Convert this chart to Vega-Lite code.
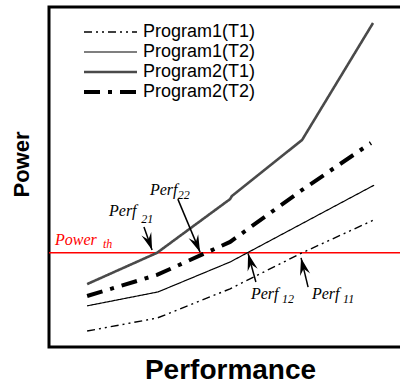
{
  "$schema": "https://vega.github.io/schema/vega-lite/v6.json",
  "width": 353,
  "height": 340,
  "autosize": {"type": "none"},
  "padding": {"left": 49, "top": 7, "right": 0, "bottom": 37},
  "background": "white",
  "config": {
    "view": {"stroke": "black", "strokeWidth": 3},
    "font": "Liberation Sans",
    "axis": {"domain": false, "ticks": false, "labels": false, "grid": false}
  },
  "datasets": {
    "curves": [
      {"program": "Program1(T1)", "perf": 10.8, "power": 4.7},
      {"program": "Program1(T1)", "perf": 30.6, "power": 8.5},
      {"program": "Program1(T1)", "perf": 51.3, "power": 17.1},
      {"program": "Program1(T1)", "perf": 71.7, "power": 27.7},
      {"program": "Program1(T1)", "perf": 92.1, "power": 37.4},
      {"program": "Program1(T2)", "perf": 10.8, "power": 12.1},
      {"program": "Program1(T2)", "perf": 30.9, "power": 16.2},
      {"program": "Program1(T2)", "perf": 51.3, "power": 25.0},
      {"program": "Program1(T2)", "perf": 92.1, "power": 47.6},
      {"program": "Program2(T1)", "perf": 10.8, "power": 18.5},
      {"program": "Program2(T1)", "perf": 30.6, "power": 27.7},
      {"program": "Program2(T1)", "perf": 51.3, "power": 43.5},
      {"program": "Program2(T1)", "perf": 51.8, "power": 44.4},
      {"program": "Program2(T1)", "perf": 71.7, "power": 60.9},
      {"program": "Program2(T1)", "perf": 91.8, "power": 95.3},
      {"program": "Program2(T2)", "perf": 10.8, "power": 15.0},
      {"program": "Program2(T2)", "perf": 30.6, "power": 21.2},
      {"program": "Program2(T2)", "perf": 51.3, "power": 30.9},
      {"program": "Program2(T2)", "perf": 71.7, "power": 46.2},
      {"program": "Program2(T2)", "perf": 91.2, "power": 60.0}
    ],
    "threshold": [{"power": 27.7}],
    "arrows": [
      {"name": "Perf21", "perf": 26.9, "power": 35.3, "perf2": 29.2, "power2": 28.5},
      {"name": "Perf22", "perf": 36.5, "power": 43.5, "perf2": 42.8, "power2": 27.9},
      {"name": "Perf12", "perf": 58.6, "power": 19.1, "perf2": 56.4, "power2": 27.5},
      {"name": "Perf11", "perf": 73.4, "power": 17.6, "perf2": 71.4, "power2": 26.2}
    ],
    "labels": [
      {"kind": "threshold", "part": "main", "text": "Power", "perf": 1.7, "power": 30.0},
      {"kind": "threshold", "part": "sub", "text": "th", "perf": 15.3, "power": 29.0},
      {"kind": "crossing", "part": "main", "text": "Perf", "perf": 17.0, "power": 38.4},
      {"kind": "crossing", "part": "sub", "text": "21", "perf": 26.1, "power": 36.6},
      {"kind": "crossing", "part": "main", "text": "Perf", "perf": 28.6, "power": 44.7},
      {"kind": "crossing", "part": "sub", "text": "22", "perf": 36.5, "power": 43.4},
      {"kind": "crossing", "part": "main", "text": "Perf", "perf": 57.2, "power": 14.1},
      {"kind": "crossing", "part": "sub", "text": "12", "perf": 66.0, "power": 12.9},
      {"kind": "crossing", "part": "main", "text": "Perf", "perf": 74.5, "power": 14.1},
      {"kind": "crossing", "part": "sub", "text": "11", "perf": 83.3, "power": 12.9}
    ]
  },
  "layer": [
    {
      "data": {"name": "threshold"},
      "mark": {"type": "rule", "color": "#ff0000", "strokeWidth": 1.5},
      "encoding": {
        "y": {"field": "power", "type": "quantitative", "scale": {"domain": [0, 100], "nice": false},
              "axis": {"title": "Power", "titleFontSize": 22, "titleFontWeight": "bold", "titleColor": "black",
                       "titleX": -21, "titleY": 157, "titleAngle": -90, "titleAlign": "center", "titleBaseline": "alphabetic"}}
      }
    },
    {
      "data": {"name": "curves"},
      "mark": {"type": "line", "strokeCap": "butt"},
      "encoding": {
        "x": {"field": "perf", "type": "quantitative", "scale": {"domain": [0, 100], "nice": false},
              "axis": {"title": "Performance", "titleFontSize": 28, "titleFontWeight": "bold", "titleColor": "black",
                       "titleX": 181, "titleY": 31, "titleAlign": "center", "titleBaseline": "alphabetic"}},
        "y": {"field": "power", "type": "quantitative"},
        "detail": {"field": "program"},
        "color": {
          "field": "program", "type": "ordinal",
          "scale": {"type": "ordinal", "domain": ["Program1(T1)", "Program1(T2)", "Program2(T1)", "Program2(T2)"],
                    "range": ["#000000", "#000000", "#4a4a4a", "#000000"]},
          "legend": {"orient": "none", "legendX": 33, "legendY": 15, "title": null, "padding": 0,
                     "symbolType": "stroke", "symbolSize": 2809, "clipHeight": 20,
                     "labelFontSize": 18, "labelFont": "Liberation Sans",
                     "labelColor": "black", "labelOffset": 4, "rowPadding": 0}
        },
        "strokeDash": {
          "field": "program", "type": "ordinal",
          "scale": {"type": "ordinal", "domain": ["Program1(T1)", "Program1(T2)", "Program2(T1)", "Program2(T2)"],
                    "range": [[8, 4, 2, 4, 2, 4], [1, 0], [1, 0], [16, 8, 4, 8]]}
        },
        "strokeWidth": {
          "field": "program", "type": "ordinal",
          "scale": {"type": "ordinal", "domain": ["Program1(T1)", "Program1(T2)", "Program2(T1)", "Program2(T2)"],
                    "range": [1.4, 1.2, 2.6, 4]}
        }
      }
    },
    {
      "data": {"name": "arrows"},
      "mark": {"type": "rule", "color": "black", "strokeWidth": 1.5},
      "encoding": {
        "x": {"field": "perf", "type": "quantitative"},
        "y": {"field": "power", "type": "quantitative"},
        "x2": {"field": "perf2"},
        "y2": {"field": "power2"}
      }
    },
    {
      "data": {"name": "arrows"},
      "transform": [
        {"calculate": "atan2((datum.perf2 - datum.perf) * 3.53, (datum.power2 - datum.power) * 3.4) * 180 / PI", "as": "heading"}
      ],
      "mark": {"type": "point", "shape": "M0,0L-0.3,1L0,0.64L0.3,1Z", "filled": true, "color": "black", "size": 1200, "opacity": 1},
      "encoding": {
        "x": {"field": "perf2", "type": "quantitative"},
        "y": {"field": "power2", "type": "quantitative"},
        "angle": {"field": "heading", "type": "quantitative", "scale": null}
      }
    },
    {
      "data": {"name": "labels"},
      "transform": [{"filter": "datum.part === 'main'"}],
      "mark": {"type": "text", "font": "Liberation Serif", "fontStyle": "italic", "fontSize": 16, "align": "left", "baseline": "alphabetic"},
      "encoding": {
        "x": {"field": "perf", "type": "quantitative"},
        "y": {"field": "power", "type": "quantitative"},
        "text": {"field": "text"},
        "color": {"condition": {"test": "datum.kind === 'threshold'", "value": "#ff0000"}, "value": "black"}
      }
    },
    {
      "data": {"name": "labels"},
      "transform": [{"filter": "datum.part === 'sub'"}],
      "mark": {"type": "text", "font": "Liberation Serif", "fontStyle": "italic", "fontSize": 12, "align": "left", "baseline": "alphabetic"},
      "encoding": {
        "x": {"field": "perf", "type": "quantitative"},
        "y": {"field": "power", "type": "quantitative"},
        "text": {"field": "text"},
        "color": {"condition": {"test": "datum.kind === 'threshold'", "value": "#ff0000"}, "value": "black"}
      }
    }
  ]
}
